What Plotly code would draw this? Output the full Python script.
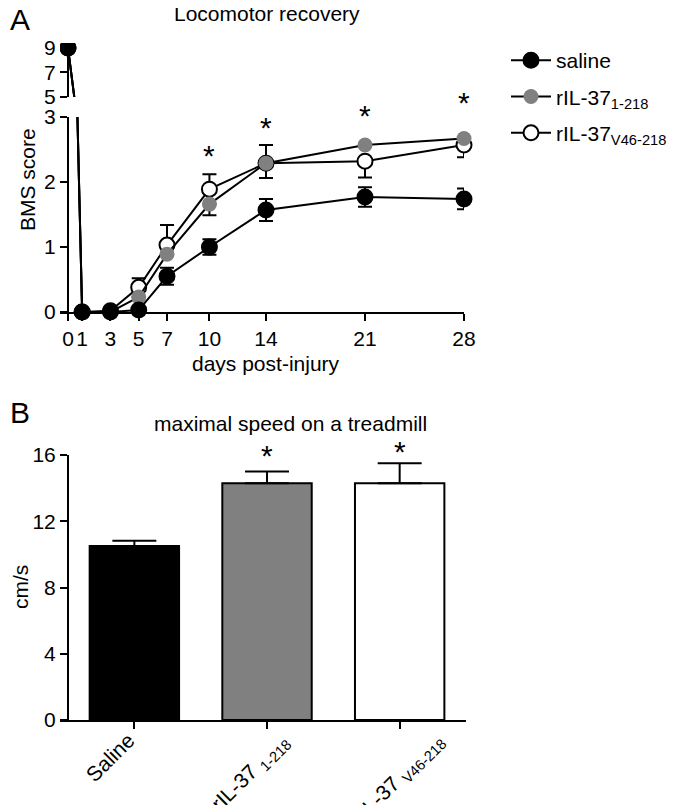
import plotly.graph_objects as go

# ---- panel A: BMS score over time ----
days = [0, 1, 3, 5, 7, 10, 14, 21, 28]
day_ticks = [0, 1, 3, 5, 7, 10, 14, 21, 28]

saline = [9, 0, 0, 0.03, 0.55, 1.0, 1.57, 1.77, 1.74]
saline_err = [0, 0, 0, 0, 0.13, 0.12, 0.17, 0.15, 0.16]

il37_full = [9, 0, 0.0, 0.23, 0.89, 1.66, 2.29, 2.57, 2.67]
il37_full_up = [0, 0, 0, 0, 0, 0, 0.28, 0, 0]
il37_full_dn = [0, 0, 0, 0, 0, 0.17, 0.23, 0, 0]

il37_v46 = [9, 0, 0.02, 0.38, 1.03, 1.89, 2.29, 2.32, 2.57]
il37_v46_up = [0, 0, 0, 0.14, 0.31, 0.23, 0.28, 0, 0]
il37_v46_dn = [0, 0, 0, 0, 0, 0, 0.23, 0.25, 0.19]

star_days = [10, 14, 21, 28]
star_y = [2.49, 2.91, 3.1, 3.3]

# ---- panel B: treadmill speed ----
groups = ["Saline", "rIL-37 <sub>1-218</sub>", "rIL-37 <sub>V46-218</sub>"]
speed = [10.5, 14.3, 14.3]
speed_err = [0.32, 0.7, 1.2]
speed_star = [None, 16.3, 16.5]

FONT = "Arial, Liberation Sans, sans-serif"
FS = 21
W, H = 680, 805
OFF = 8  # page body margin


def px_x(p):
    return (p - OFF) / W


def px_y(p):
    return 1 - (p - OFF) / H


series = [
    # drawn order: open, grey, black on top
    dict(name="rIL-37<sub>V46-218</sub>", y=il37_v46, up=il37_v46_up, dn=il37_v46_dn,
         fill="white", rank=3),
    dict(name="rIL-37<sub>1-218</sub>", y=il37_full, up=il37_full_up, dn=il37_full_dn,
         fill="#808080", rank=2),
    dict(name="saline", y=saline, up=saline_err, dn=saline_err, fill="black", rank=1),
]

fig = go.Figure()

for i, s in enumerate(series):
    mline = dict(color="black", width=2) if s["fill"] != "#808080" else dict(color="#808080", width=0)
    # lower part of the broken axis
    fig.add_trace(go.Scatter(
        x=days, y=s["y"], xaxis="x", yaxis="y",
        mode="lines+markers", name=s["name"], legendrank=s["rank"],
        legendgroup=str(i),
        line=dict(color="black", width=2),
        marker=dict(size=15, color=s["fill"], line=mline),
        error_y=dict(type="data", array=s["up"], arrayminus=s["dn"],
                     color="black", thickness=2, width=7),
        cliponaxis=False,
    ))
    # upper part of the broken axis
    fig.add_trace(go.Scatter(
        x=days, y=s["y"], xaxis="x", yaxis="y2",
        mode="lines+markers", showlegend=False,
        line=dict(color="black", width=2),
        marker=dict(size=15, color=s["fill"], line=mline),
        cliponaxis=True,
    ))

bar_colors = ["black", "#808080", "white"]
fig.add_trace(go.Bar(
    x=[0, 1, 2], y=speed, xaxis="x2", yaxis="y3",
    marker=dict(color=bar_colors, line=dict(color="black", width=2)),
    error_y=dict(type="data", array=speed_err, arrayminus=[0, 0, 0],
                 color="black", thickness=2, width=22),
    showlegend=False, width=0.674,
))

axis_common = dict(showline=True, linecolor="black", linewidth=2, ticks="outside",
                   tickcolor="black", tickwidth=2, ticklen=7, showgrid=False,
                   zeroline=False, tickfont=dict(family=FONT, size=FS, color="black"))

# x range extended slightly left so day 0 markers are not clipped
x0px, x28px = 68, 464
pxday = (x28px - x0px) / 28
xleft = 60
fig.update_layout(
    width=W, height=H, margin=dict(l=0, r=0, t=0, b=0, autoexpand=False),
    plot_bgcolor="white", paper_bgcolor="white",
    font=dict(family=FONT, size=FS, color="black"),
    xaxis=dict(axis_common, domain=[px_x(xleft), px_x(x28px)],
               range=[-(x0px - xleft) / pxday, 28], tickvals=day_ticks,
               anchor="y", layer="below traces"),
    yaxis=dict(axis_common, domain=[px_y(312), px_y(117)], range=[0, 3],
               tickvals=[0, 1, 2, 3], anchor="free", position=px_x(x0px)),
    yaxis2=dict(axis_common, domain=[px_y(97), px_y(43)], range=[5, 9.4],
                tickvals=[5, 7, 9], anchor="free", position=px_x(x0px)),
    xaxis2=dict(axis_common, domain=[px_x(xleft), px_x(466)],
                range=[-0.5 - (68 - xleft) / 132, 2.5], tickvals=[0, 1, 2],
                showticklabels=False, anchor="y3", layer="below traces"),
    yaxis3=dict(axis_common, domain=[px_y(720), px_y(455)], range=[0, 16],
                tickvals=[0, 4, 8, 12, 16], anchor="free", position=px_x(68)),
    bargap=0.326,
    legend=dict(x=px_x(506), y=px_y(40), xanchor="left", yanchor="top",
                font=dict(family=FONT, size=FS), tracegroupgap=6,
                bgcolor="rgba(0,0,0,0)", itemwidth=40),
    showlegend=True,
)

ann = [
    dict(text="A", x=px_x(20), y=px_y(19), xanchor="center", yanchor="middle", font=dict(size=30)),
    dict(text="B", x=px_x(20), y=px_y(413), xanchor="center", yanchor="middle", font=dict(size=30)),
    dict(text="Locomotor recovery", x=px_x(267), y=px_y(13), xanchor="center", yanchor="middle"),
    dict(text="maximal speed on a treadmill", x=px_x(290), y=px_y(423), xanchor="center",
         yanchor="middle"),
    dict(text="BMS score", x=px_x(27), y=px_y(180), textangle=-90, xanchor="center",
         yanchor="middle"),
    dict(text="cm/s", x=px_x(20), y=px_y(587), textangle=-90, xanchor="center",
         yanchor="middle"),
    dict(text="days post-injury", x=px_x(266), y=px_y(363), xanchor="center", yanchor="middle"),
]
for a in ann:
    a.update(xref="paper", yref="paper", showarrow=False)
    a.setdefault("font", dict(size=FS))
    fig.add_annotation(**a)

# rotated category labels of panel B (main text ends just right of the tick)
label_dx = [7, 30, 52]
for i, (g, dx) in enumerate(zip(groups, label_dx)):
    fig.add_annotation(x=i, y=px_y(726), xref="x2", yref="paper", text=g, textangle=-45,
                       xanchor="right", yanchor="top", xshift=dx, showarrow=False,
                       font=dict(size=FS))

# significance stars (domain refs so they may sit above the axis range)
for d, sy in zip(star_days, star_y):
    fig.add_annotation(x=d, y=sy / 3, xref="x", yref="y domain", text="*", showarrow=False,
                       font=dict(size=30), yanchor="middle", yshift=-5)
for i, sy in enumerate(speed_star):
    if sy is not None:
        fig.add_annotation(x=i, y=sy / 16, xref="x2", yref="y3 domain", text="*",
                           showarrow=False, font=dict(size=30), yanchor="middle", yshift=-5)

fig.write_html("out.html")
